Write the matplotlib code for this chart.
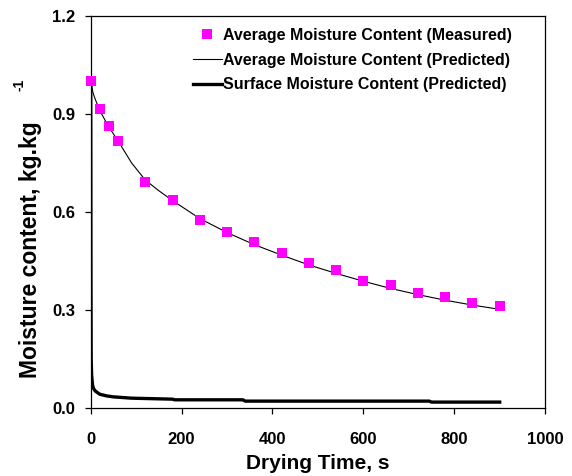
import matplotlib.pyplot as plt

plt.rcParams['font.family'] = ['Liberation Sans', 'DejaVu Sans']
plt.rcParams['font.weight'] = 'bold'

# measured average moisture content
t_meas = [0, 20, 40, 60, 120, 180, 240, 300, 360, 420, 480, 540, 600, 660, 720, 780, 840, 900]
m_meas = [1.0, 0.915, 0.862, 0.818, 0.692, 0.636, 0.576, 0.539, 0.507, 0.473, 0.443, 0.422,
          0.388, 0.376, 0.351, 0.339, 0.320, 0.311]

# predicted average moisture content
t_avg = [0, 5, 10, 20, 30, 40, 60, 90, 120, 150, 180, 240, 300, 360, 420, 480, 540,
         600, 660, 720, 780, 840, 900]
m_avg = [1.0, 0.965, 0.945, 0.91, 0.885, 0.86, 0.818, 0.75, 0.698, 0.665, 0.635, 0.58,
         0.537, 0.5, 0.468, 0.438, 0.412, 0.388, 0.366, 0.347, 0.33, 0.315, 0.302]

# predicted surface moisture content
t_surf = [0, 0.5, 1, 2, 4, 6, 10, 20, 35, 50, 90, 180, 185, 335, 340, 745, 750, 900]
m_surf = [1.0, 0.4, 0.15, 0.1, 0.07, 0.06, 0.052, 0.042, 0.037, 0.034, 0.030, 0.027,
          0.025, 0.025, 0.021, 0.021, 0.018, 0.018]

fig = plt.figure(figsize=(5.72, 4.76), dpi=100)
ax = fig.add_axes([0.1586, 0.1429, 0.7944, 0.8235])

ax.plot(t_meas, m_meas, 's', color='#ff00ff', markersize=7.5, markeredgewidth=0,
        clip_on=False, zorder=3, label='Average Moisture Content (Measured)')
ax.plot(t_avg, m_avg, '-', color='black', linewidth=0.8,
        label='Average Moisture Content (Predicted)')
ax.plot(t_surf, m_surf, '-', color='black', linewidth=2.4,
        label='Surface Moisture Content (Predicted)')

ax.set_xlim(0, 1000)
ax.set_ylim(0, 1.2)
ax.set_xticks([0, 200, 400, 600, 800, 1000])
ax.set_yticks([0.0, 0.3, 0.6, 0.9, 1.2])
ax.set_yticklabels(['0.0', '0.3', '0.6', '0.9', '1.2'])
ax.tick_params(direction='out', length=4.3, width=0.9, labelsize=12)
ax.tick_params(axis='x', pad=13)
ax.tick_params(axis='y', pad=7)
for s in ax.spines.values():
    s.set_linewidth(0.9)

ax.set_xlabel('Drying Time, s', fontsize=15, fontweight='bold', labelpad=5)
ax.set_ylabel('Moisture content, kg.kg', fontsize=16.5, fontweight='bold')
ax.yaxis.set_label_coords(-0.107, 0.403)
# superscript of the unit, set apart as in the original
fig.text(0.047, 0.821, '-1', rotation=90, rotation_mode='anchor', ha='center',
         va='bottom', fontsize=10, fontweight='bold')

ax.legend(loc='upper left', bbox_to_anchor=(193 / 572, 1 - 28 / 476),
          bbox_transform=fig.transFigure, frameon=False, borderpad=0, borderaxespad=0,
          fontsize=11.5, handlelength=1.8, handletextpad=0.1, labelspacing=0.6,
          markerscale=0.9)

plt.savefig('out.png', dpi=100)
